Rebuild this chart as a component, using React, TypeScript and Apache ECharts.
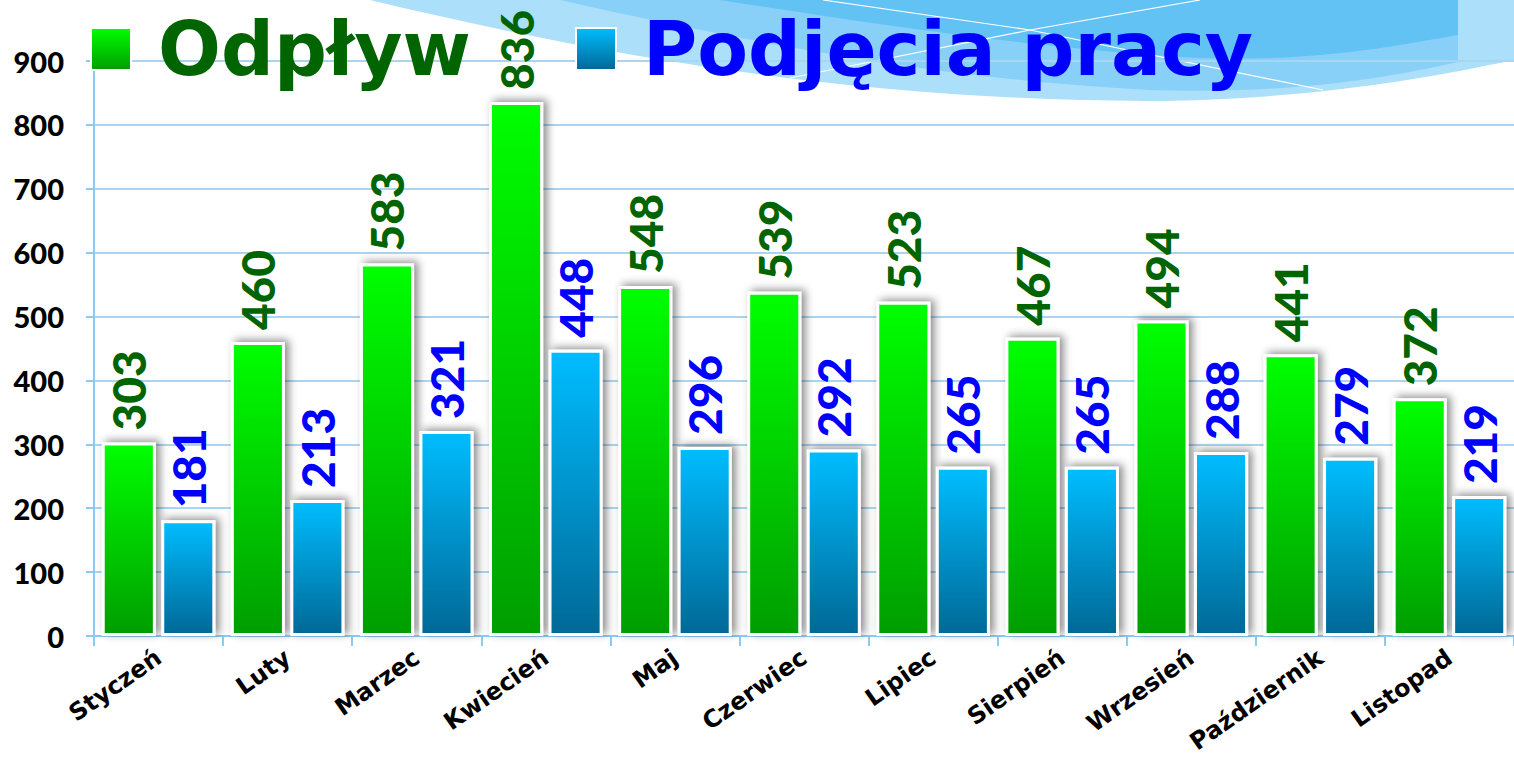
import React, { useEffect, useRef } from "react";
import * as echarts from "echarts";

const categories = ["Styczeń", "Luty", "Marzec", "Kwiecień", "Maj", "Czerwiec", "Lipiec", "Sierpień", "Wrzesień", "Październik", "Listopad"];
const odplyw = [303, 460, 583, 836, 548, 539, 523, 467, 494, 441, 372];
const podjecia = [181, 213, 321, 448, 296, 292, 265, 265, 288, 279, 219];
const seriesNames = ["Odpływ", "Podjęcia pracy"];

const FONT = "Lato, 'DejaVu Sans', sans-serif";
const WIDE = "'DejaVu Sans', sans-serif";

echarts.graphic.registerShape(
  "waveLight",
  echarts.graphic.extendPath("M 370 0 C 600 55 850 100 1150 101 C 1300 100 1420 80 1514 60 L 1514 0 Z", {})
);
echarts.graphic.registerShape(
  "waveMid",
  echarts.graphic.extendPath("M 560 0 C 760 45 950 80 1150 90 C 1300 95 1400 75 1458 62 L 1458 0 Z", {})
);
echarts.graphic.registerShape(
  "waveDark",
  echarts.graphic.extendPath("M 720 0 C 880 25 1050 50 1200 58 C 1320 62 1400 45 1458 35 L 1458 0 Z", {})
);

export default function App() {
  const ref = useRef<HTMLDivElement>(null);
  useEffect(() => {
    if (!ref.current) return;
    const chart = echarts.init(ref.current, undefined, { renderer: "svg" });
    const greenGrad = new echarts.graphic.LinearGradient(0, 0, 0, 1, [
      { offset: 0, color: "#00ff00" },
      { offset: 1, color: "#009d00" },
    ]);
    const blueGrad = new echarts.graphic.LinearGradient(0, 0, 0, 1, [
      { offset: 0, color: "#00bdff" },
      { offset: 1, color: "#006896" },
    ]);
    const barStyle = {
      borderColor: "#ffffff",
      borderWidth: 3,
      shadowBlur: 8,
      shadowColor: "rgba(0,0,0,0.45)",
      shadowOffsetX: 4,
      shadowOffsetY: -2,
    };
    const labelBase = {
      show: true,
      position: "top",
      rotate: 90,
      align: "left",
      verticalAlign: "middle",
      distance: 12,
      fontSize: 46,
      fontWeight: 900,
      fontFamily: FONT,
    };
    const legendBase = {
      icon: "rect",
      itemWidth: 40,
      itemHeight: 42,
      top: 7,
      textStyle: {
        fontSize: 74,
        fontWeight: "bold",
        fontFamily: WIDE,
        lineHeight: 42,
        padding: [0, 0, 0, 22],
      },
    };
    chart.setOption({
      animation: false,
      backgroundColor: "#ffffff",
      graphic: [
        { type: "rect", z: -11, silent: true, shape: { x: 1458, y: 0, width: 56, height: 62 }, style: { fill: "#a6dcf9" } },
        { type: "waveLight", z: -10, silent: true, style: { fill: "#abdffa" } },
        { type: "waveMid", z: -9, silent: true, style: { fill: "#88d0f7" } },
        { type: "waveDark", z: -8, silent: true, style: { fill: "#62c2f4" } },
        {
          type: "polyline",
          z: -7,
          silent: true,
          shape: { points: [[823, 0], [1030, 30], [1323, 90]] },
          style: { stroke: "#ffffff", lineWidth: 1.2, fill: null },
        },
        {
          type: "polyline",
          z: -7,
          silent: true,
          shape: { points: [[790, 78], [1030, 30], [1200, 0]] },
          style: { stroke: "#ffffff", lineWidth: 1.2, fill: null },
        },
      ],
      legend: [
        {
          ...legendBase,
          left: 85,
          data: [seriesNames[0]],
          textStyle: { ...legendBase.textStyle, color: "#006400" },
        },
        {
          ...legendBase,
          left: 570,
          data: [seriesNames[1]],
          textStyle: { ...legendBase.textStyle, color: "#0000ff" },
        },
      ],
      grid: { left: 94, right: 0, top: 61, bottom: 124, containLabel: false, outerBoundsMode: "none" },
      xAxis: {
        type: "category",
        data: categories,
        axisLine: { lineStyle: { color: "#8ccaf0", width: 2 } },
        axisTick: { show: true, length: 10, lineStyle: { color: "#8ccaf0", width: 2 } },
        axisLabel: {
          rotate: 35,
          margin: 19,
          color: "#000",
          fontSize: 24,
          fontWeight: "bold",
          fontFamily: WIDE,
        },
      },
      yAxis: {
        type: "value",
        min: 0,
        max: 900,
        interval: 100,
        axisLine: { show: true, lineStyle: { color: "#8ccaf0", width: 2 } },
        axisTick: { show: true, length: 8, lineStyle: { color: "#8ccaf0", width: 2 } },
        splitLine: { lineStyle: { color: "#a8d6f2", width: 2 } },
        axisLabel: {
          margin: 30,
          color: "#000",
          fontSize: 29,
          fontWeight: 900,
          fontFamily: FONT,
        },
      },
      series: [
        {
          name: seriesNames[0],
          type: "bar",
          data: odplyw,
          barCategoryGap: "12%",
          barGap: "10%",
          itemStyle: { color: greenGrad, ...barStyle },
          label: { ...labelBase, color: "#006400" },
        },
        {
          name: seriesNames[1],
          type: "bar",
          data: podjecia,
          barCategoryGap: "12%",
          barGap: "10%",
          itemStyle: { color: blueGrad, ...barStyle },
          label: { ...labelBase, color: "#0000ff" },
        },
      ],
    });
    return () => chart.dispose();
  }, []);
  return <div ref={ref} style={{ position: "fixed", left: 0, top: 0, width: 1514, height: 760 }} />;
}
